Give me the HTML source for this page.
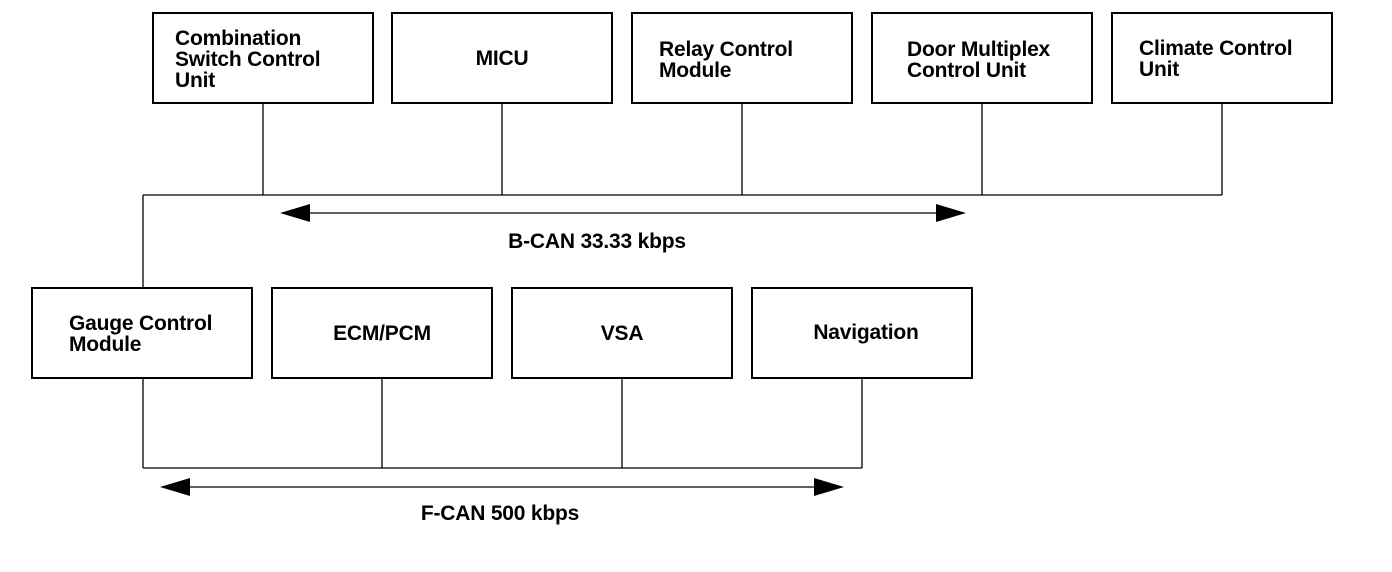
<!DOCTYPE html>
<html><head><meta charset="utf-8"><style>
body{margin:0;width:1392px;height:572px;background:#fff;position:relative;overflow:hidden;font-family:"Liberation Sans",Arial,sans-serif;}
.b{position:absolute;border:2px solid #000;box-sizing:border-box;width:222px;height:92px;}
.t{position:absolute;font-weight:bold;font-size:21px;line-height:21px;white-space:nowrap;letter-spacing:-0.2px;}
svg{position:absolute;left:0;top:0}
</style></head><body>
<svg width="1392" height="572">
<g stroke="#000" stroke-width="1.3" fill="none">
<line x1="263" y1="104" x2="263" y2="195"/>
<line x1="502" y1="104" x2="502" y2="195"/>
<line x1="742" y1="104" x2="742" y2="195"/>
<line x1="982" y1="104" x2="982" y2="195"/>
<line x1="1222" y1="104" x2="1222" y2="195"/>
<line x1="143" y1="195" x2="1222" y2="195"/>
<line x1="143" y1="195" x2="143" y2="287"/>
<line x1="300" y1="213" x2="945" y2="213"/>
<line x1="143" y1="378" x2="143" y2="468"/>
<line x1="382" y1="378" x2="382" y2="468"/>
<line x1="622" y1="378" x2="622" y2="468"/>
<line x1="862" y1="378" x2="862" y2="468"/>
<line x1="143" y1="468" x2="862" y2="468"/>
<line x1="180" y1="487" x2="823" y2="487"/>
</g>
<g fill="#000">
<polygon points="280,213 310,204 310,222"/>
<polygon points="966,213 936,204 936,222"/>
<polygon points="160,487 190,478 190,496"/>
<polygon points="844,487 814,478 814,496"/>
</g>
</svg>
<div class="b" style="left:152px;top:12px"></div>
<div class="t" style="left:175px;top:28px">Combination<br>Switch Control<br>Unit</div>
<div class="b" style="left:391px;top:12px"></div>
<div class="t" style="left:391px;width:222px;text-align:center;top:48px">MICU</div>
<div class="b" style="left:631px;top:12px"></div>
<div class="t" style="left:659px;top:39px">Relay Control<br>Module</div>
<div class="b" style="left:871px;top:12px"></div>
<div class="t" style="left:907px;top:39px">Door Multiplex<br>Control Unit</div>
<div class="b" style="left:1111px;top:12px"></div>
<div class="t" style="left:1139px;top:38px">Climate Control<br>Unit</div>
<div class="t" style="left:597px;transform:translateX(-50%);top:231px">B-CAN 33.33 kbps</div>
<div class="b" style="left:31px;top:287px"></div>
<div class="t" style="left:69px;top:313px">Gauge Control<br>Module</div>
<div class="b" style="left:271px;top:287px"></div>
<div class="t" style="left:271px;width:222px;text-align:center;top:323px">ECM/PCM</div>
<div class="b" style="left:511px;top:287px"></div>
<div class="t" style="left:511px;width:222px;text-align:center;top:323px">VSA</div>
<div class="b" style="left:751px;top:287px"></div>
<div class="t" style="left:751px;width:230px;text-align:center;top:322px">Navigation</div>
<div class="t" style="left:500px;transform:translateX(-50%);top:503px">F-CAN 500 kbps</div>
</body></html>
